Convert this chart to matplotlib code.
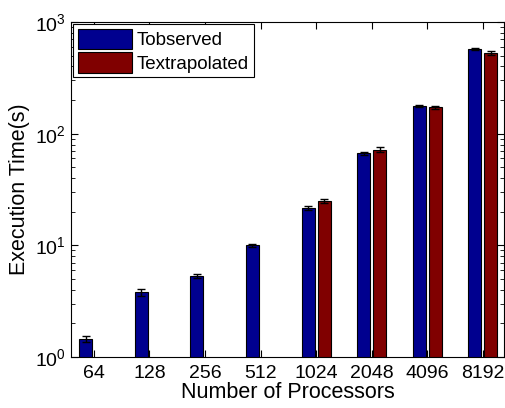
import numpy as np
import matplotlib
matplotlib.use("Agg")
import matplotlib.pyplot as plt

plt.rcParams['font.family'] = ['Liberation Sans', 'DejaVu Sans']

# data
processors = ['64', '128', '256', '512', '1024', '2048', '4096', '8192']
t_observed = [1.45, 3.8, 5.3, 10.0, 21.7, 67, 177, 575]
t_observed_err = [0.1, 0.25, 0.2, 0.35, 0.8, 2.0, 5.0, 10.0]
t_extrapolated = [np.nan, np.nan, np.nan, np.nan, 25.0, 72, 172, 525]
t_extrapolated_err = [np.nan, np.nan, np.nan, np.nan, 1.0, 4.0, 6.0, 20.0]

x = np.arange(1, len(processors) + 1)
w = 0.235
off = 0.145

fig = plt.figure(figsize=(5.05, 4.08), dpi=100)
ax = fig.add_axes([0.1406, 0.125, 0.8574, 0.821])

err_kw = dict(ecolor='black', capsize=3, elinewidth=1, capthick=1)
ax.bar(x - off, t_observed, w, yerr=t_observed_err, color='#00008f',
       edgecolor='black', linewidth=0.8, label='Tobserved', error_kw=err_kw)
ax.bar(x + off, t_extrapolated, w, yerr=t_extrapolated_err, color='#800000',
       edgecolor='black', linewidth=0.8, label='Textrapolated', error_kw=err_kw)

ax.set_yscale('log')
ax.set_ylim(1, 1000)
ax.set_xlim(0.59, 8.38)
ax.set_xticks(x)
ax.set_xticklabels(processors)
ax.tick_params(which='both', direction='in', top=True, right=True, labelsize=14)
ax.tick_params(which='major', length=5)
ax.tick_params(which='minor', length=3)
ax.tick_params(axis='x', which='minor', top=False, bottom=False)
ax.tick_params(axis='x', pad=6)

ax.set_xlabel('Number of Processors', fontsize=15.5, labelpad=0)
ax.set_ylabel('Execution Time(s)', fontsize=15.5, labelpad=4)

leg = ax.legend(loc='upper left', fontsize=13.5, fancybox=False, edgecolor='black',
                framealpha=1, handlelength=2.9, handleheight=1.3,
                borderaxespad=0.12, borderpad=0.25, labelspacing=0.15,
                handletextpad=0.25)
leg.get_frame().set_linewidth(0.8)

fig.savefig('out.png', dpi=100)
